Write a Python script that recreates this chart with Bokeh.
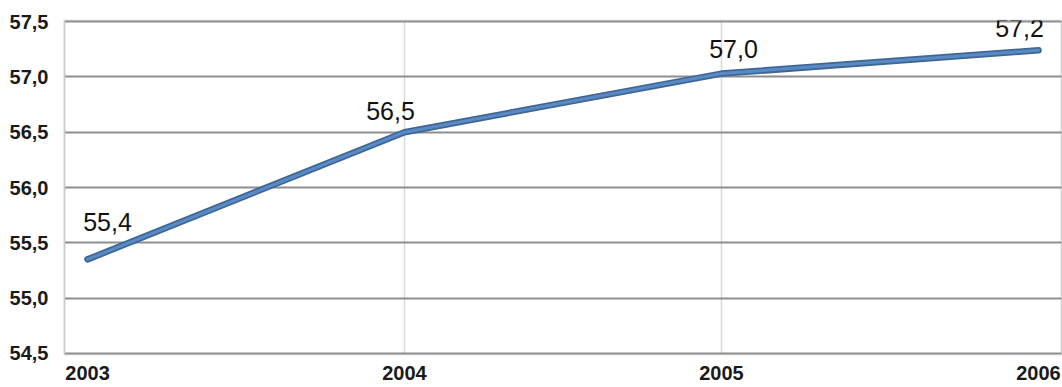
from bokeh.plotting import figure
from bokeh.models import (ColumnDataSource, LabelSet, Range1d, FixedTicker,
                          CustomJSTickFormatter)
from bokeh.core.properties import value
from bokeh.embed import file_html
from bokeh.resources import INLINE

# ---- data ----
years = [2003, 2004, 2005, 2006]
values = [55.35, 56.5, 57.03, 57.24]
value_labels = ["55,4", "56,5", "57,0", "57,2"]
y_ticks = [54.5, 55.0, 55.5, 56.0, 56.5, 57.0, 57.5]

# ---- layout / style (not data) ----
label_dx = [20, -14, 12, -19]
label_dy = [28, 12, 16, 13]
FONT = "Liberation Sans"

src = ColumnDataSource(dict(x=years, y=values, txt=value_labels,
                            dx=label_dx, dy=label_dy))

p = figure(width=1062, height=387, output_backend="svg", toolbar_location=None,
           x_range=Range1d(years[0] - 0.0726, years[-1] + 0.0726),
           y_range=Range1d(y_ticks[0] - 0.01, y_ticks[-1] + 0.01),
           min_border_left=64, min_border_right=1, min_border_top=20,
           min_border_bottom=33)

p.background_fill_color = "white"
p.border_fill_color = "white"
p.outline_line_color = "#cccccc"
p.outline_line_width = 1.5

# y axis
p.yaxis.ticker = FixedTicker(ticks=y_ticks)
p.yaxis.formatter = CustomJSTickFormatter(code="return tick.toFixed(1).replace('.', ',');")
p.yaxis.major_tick_out = 0
p.yaxis.major_tick_in = 0
p.yaxis.minor_tick_out = 0
p.yaxis.minor_tick_in = 0
p.yaxis.axis_line_color = "#cccccc"
p.yaxis.axis_line_width = 1.5
p.yaxis.major_label_standoff = 16
p.yaxis.major_label_text_font = FONT
p.yaxis.major_label_text_font_style = "bold"
p.yaxis.major_label_text_font_size = "20px"
p.yaxis.major_label_text_color = "#1a1a1a"

# x axis
p.xaxis.ticker = FixedTicker(ticks=years)
p.xaxis.major_tick_out = 0
p.xaxis.major_tick_in = 0
p.xaxis.minor_tick_out = 0
p.xaxis.minor_tick_in = 0
p.xaxis.axis_line_color = None
p.xaxis.major_label_standoff = 11
p.xaxis.major_label_text_font = FONT
p.xaxis.major_label_text_font_style = "bold"
p.xaxis.major_label_text_font_size = "20px"
p.xaxis.major_label_text_color = "#1a1a1a"

# grids
p.ygrid.ticker = FixedTicker(ticks=y_ticks)
p.ygrid.grid_line_color = "#8e8e8e"
p.ygrid.grid_line_width = 2
p.xgrid.ticker = FixedTicker(ticks=years[1:-1])
p.xgrid.grid_line_color = "#d9d9d9"
p.xgrid.grid_line_width = 1.5

# line
p.line("x", "y", source=src, line_color="#3f6796", line_width=6.5, line_cap="round")
p.line("x", "y", source=src, line_color="#5a8ac4", line_width=3, line_cap="round")

labels = LabelSet(x="x", y="y", text="txt", source=src,
                  x_offset="dx", y_offset="dy",
                  text_align="center", text_baseline="alphabetic",
                  text_font=value(FONT), text_font_size=value("25px"),
                  text_color="#111111")
p.add_layout(labels)

open("out.html", "w").write(file_html(p, INLINE))
